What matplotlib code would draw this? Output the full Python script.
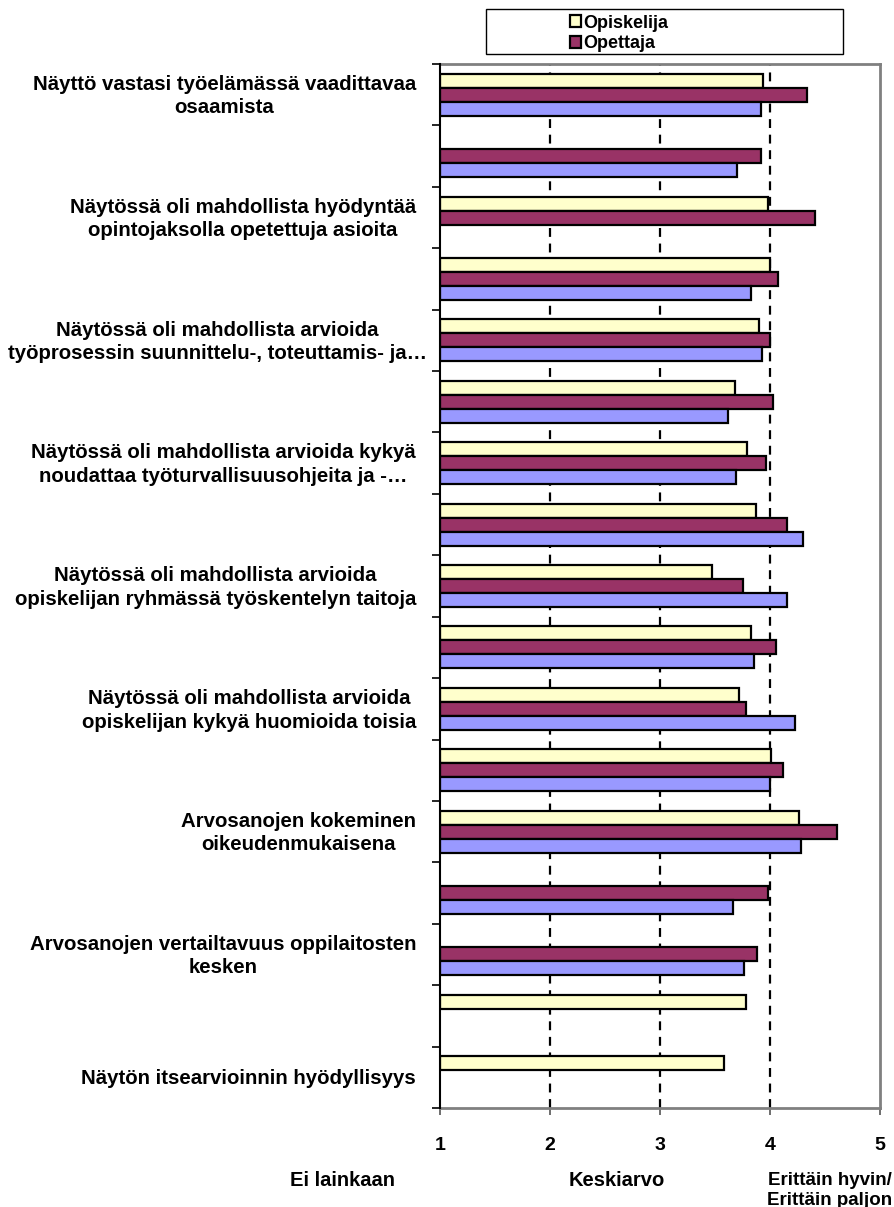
import numpy as np
import matplotlib
matplotlib.use("Agg")
import matplotlib.pyplot as plt
from matplotlib import font_manager
from matplotlib.patches import Patch, Rectangle
from matplotlib.transforms import blended_transform_factory, ScaledTranslation

plt.rcParams['font.family'] = ['Liberation Sans', 'DejaVu Sans']
plt.rcParams['font.weight'] = 'bold'

# Survey items (only every other item carries a printed label)
categories = [
    "Näyttö vastasi työelämässä vaadittavaa\nosaamista",
    "",
    "Näytössä oli mahdollista hyödyntää\nopintojaksolla opetettuja asioita",
    "",
    "Näytössä oli mahdollista arvioida\ntyöprosessin suunnittelu-, toteuttamis- ja…",
    "",
    "Näytössä oli mahdollista arvioida kykyä\nnoudattaa työturvallisuusohjeita ja -…",
    "",
    "Näytössä oli mahdollista arvioida\nopiskelijan ryhmässä työskentelyn taitoja",
    "",
    "Näytössä oli mahdollista arvioida\nopiskelijan kykyä huomioida toisia",
    "",
    "Arvosanojen kokeminen\noikeudenmukaisena",
    "",
    "Arvosanojen vertailtavuus oppilaitosten\nkesken",
    "",
    "Näytön itsearvioinnin hyödyllisyys",
]

# Mean ratings on a 1-5 scale (nan = no answer for that group)
nan = np.nan
opiskelija = [3.94, nan, 3.98, 4.00, 3.90, 3.68, 3.79, 3.87, 3.47, 3.83,
              3.72, 4.01, 4.26, nan, nan, 3.78, 3.58]
opettaja = [4.34, 3.92, 4.41, 4.07, 4.00, 4.03, 3.96, 4.15, 3.75, 4.05,
            3.78, 4.12, 4.61, 3.98, 3.88, nan, nan]
kolmas = [3.92, 3.70, nan, 3.83, 3.93, 3.62, 3.69, 4.30, 4.15, 3.85,
          4.23, 4.00, 4.28, 3.66, 3.76, nan, nan]

series_names = ["Opiskelija", "Opettaja"]
colors = ["#FFFFCC", "#993366", "#9999FF"]

x_ticks = [1, 2, 3, 4, 5]
scale_labels = ["Ei lainkaan", "Keskiarvo", "Erittäin hyvin/\nErittäin paljon"]

W, H = 894, 1207
fig = plt.figure(figsize=(W / 100, H / 100), dpi=100)
ax = fig.add_axes([440 / W, 1 - 1108 / H, 440 / W, 1044 / H])

n = len(categories)
y = np.arange(n)
bh = 0.228
for vals, off, col in zip([opiskelija, opettaja, kolmas], [-bh, 0, bh], colors):
    v = np.array(vals, dtype=float)
    ax.barh(y + off, v - 1, left=1, height=bh, color=col,
            edgecolor="black", linewidth=1.6, zorder=3)

ax.set_xlim(1, 5)
ax.set_ylim(n - 0.5, -0.5)

# dashed gridlines
for gx in x_ticks[1:-1]:
    ax.axvline(gx, color="black", linestyle=(0, (4, 3)), linewidth=1.6, zorder=2)

ax.set_xticks(x_ticks)
ax.set_xticklabels([str(t) for t in x_ticks], fontsize=14, fontweight="bold")
ax.tick_params(axis="x", direction="out", length=5, width=1.2, color="#555555", pad=16)

# ticks at category boundaries
ax.set_yticks(np.arange(n + 1) - 0.5)
ax.set_yticklabels([])
ax.tick_params(axis="y", which="major", direction="out", length=6, width=1.2, color="black")

for side in ["top", "right", "bottom"]:
    ax.spines[side].set_color("#808080")
    ax.spines[side].set_linewidth(2)
ax.spines["left"].set_color("black")
ax.spines["left"].set_linewidth(1.5)
ax.spines["left"].set_zorder(4)

# category labels: right-aligned next to the axis; a label too wide for the
# margin is pushed right so it stays inside the figure
trans = blended_transform_factory(ax.transAxes, ax.transData)
renderer = fig.canvas.get_renderer()
label_gap_px = 24
left_margin_px = 8
for yi, lab in zip(y, categories):
    if not lab:
        continue
    base = trans + ScaledTranslation(-label_gap_px / 100, -1.5 / 100, fig.dpi_scale_trans)
    t = ax.text(0, yi, lab, ha="right", va="center", multialignment="center",
                fontsize=14.7, fontweight="bold", linespacing=1.3,
                transform=base)
    bb = t.get_window_extent(renderer)
    if bb.x0 < left_margin_px:
        shift = min(left_margin_px - bb.x0, label_gap_px - 2)
        t.set_transform(trans + ScaledTranslation((shift - label_gap_px) / 100,
                                                  -1.5 / 100, fig.dpi_scale_trans))

# scale descriptions below the axis
fig.text(342 / W, 1 - 1181 / H, scale_labels[0], ha="center", va="center",
         fontsize=14.5, fontweight="bold")
fig.text(617 / W, 1 - 1181 / H, scale_labels[1], ha="center", va="center",
         fontsize=14.5, fontweight="bold")

available = {f.name for f in font_manager.fontManager.ttflist}
if "Liberation Sans Narrow" in available:
    right_family, right_size = ["Liberation Sans Narrow", "DejaVu Sans"], 14.5
else:
    right_family, right_size = ["Liberation Sans", "DejaVu Sans"], 13.5
fig.text(830 / W, 1 - 1172 / H, scale_labels[2], ha="center", va="top",
         fontsize=right_size, fontweight="bold", linespacing=1.2,
         family=right_family)

# legend box and entries
fig.patches.append(Rectangle((486 / W, 1 - 54 / H), (843 - 486) / W, 45 / H,
                             transform=fig.transFigure, facecolor="white",
                             edgecolor="black", linewidth=1.0))
handles = [Patch(facecolor=c, edgecolor="black", linewidth=1.6) for c in colors[:2]]
fig.legend(handles, series_names, loc="center left",
           bbox_to_anchor=(570 / W, 1 - 33.5 / H), frameon=False,
           prop={"weight": "bold", "size": 13}, handlelength=0.6,
           handleheight=0.6, handletextpad=0.15, labelspacing=0.22,
           borderpad=0, borderaxespad=0)

fig.savefig("out.png", dpi=100)
